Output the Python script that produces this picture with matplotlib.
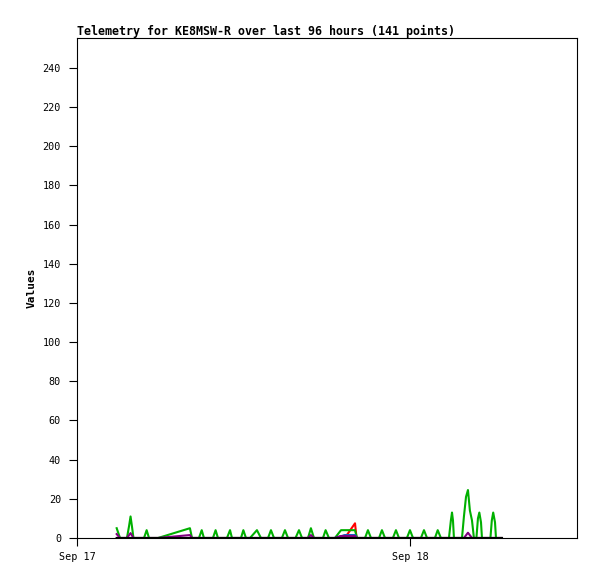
import numpy as np
import matplotlib
matplotlib.use("Agg")
import matplotlib.pyplot as plt

#-------------------------------------------------
#       Data (hours after Sep 17 00:00, values)
#-------------------------------------------------

green_t = [2.86, 3.10, 3.60, 3.75, 3.86, 3.96, 4.07, 4.83, 5.02, 5.19, 5.84, 8.14, 8.29,
           8.79, 8.99, 9.15, 9.80, 9.99, 10.16, 10.81, 11.03, 11.17, 11.82, 11.99, 12.18,
           12.47, 12.97, 13.26, 13.77, 13.98, 14.20, 14.77, 14.99, 15.21, 15.75, 16.00, 16.22,
           16.65, 16.86, 17.08, 17.73, 17.92, 18.16, 18.59, 19.03, 20.04, 20.18,
           20.76, 20.97, 21.19, 21.77, 21.98, 22.20, 22.77, 22.99, 23.21, 23.78, 24.00, 24.22,
           24.79, 25.01, 25.23, 25.80, 26.00, 26.23,
           26.81, 26.95, 27.03, 27.10, 27.17,
           27.75, 27.89, 28.04, 28.18, 28.32, 28.47, 28.61,
           28.79, 28.90, 29.00, 29.12, 29.19,
           29.80, 29.90, 30.00, 30.13, 30.20, 30.60]
green_v = [5, 0, 0, 6, 11, 6, 0, 0, 4, 0, 0, 5, 0,
           0, 4, 0, 0, 4, 0, 0, 4, 0, 0, 4, 0,
           0, 4, 0, 0, 4, 0, 0, 4, 0, 0, 4, 0,
           0, 5, 0, 0, 4, 0, 0, 4, 4, 0,
           0, 4, 0, 0, 4, 0, 0, 4, 0, 0, 4, 0,
           0, 4, 0, 0, 4, 0,
           0, 9, 13, 9, 0,
           0, 11, 21, 24.5, 14, 9, 0,
           0, 10, 13, 8, 0,
           0, 9, 13, 8, 0, 0]

purple_t = [2.86, 3.10, 3.60, 3.86, 4.07, 5.84, 8.14, 8.29, 16.65, 16.86, 17.08,
            18.59, 19.03, 20.04, 20.18, 27.89, 28.18, 28.47, 30.60]
purple_v = [2, 0, 0, 2.5, 0, 0, 1.5, 0, 0, 1.5, 0,
            0, 1, 1, 0, 0, 2.7, 0, 0]

red_t = [2.86, 18.59, 19.45, 20.04, 20.15, 30.60]
red_v = [0, 0, 1.5, 7.5, 0, 0]

blue_t = [2.86, 18.59, 19.30, 20.04, 20.18, 30.60]
blue_v = [0, 0, 1.5, 1.5, 0, 0]

black_t = [2.86, 30.60]
black_v = [0, 0]

xtick_pos = [0, 24]
xtick_lab = ['Sep 17', 'Sep 18']
yticks = list(range(0, 241, 20))

#-------------------------------------------------
#       Plot
#-------------------------------------------------

plt.rcParams['font.family'] = 'DejaVu Sans Mono'

fig = plt.figure(figsize=(5.97, 5.79), dpi=100)
ax = fig.add_axes([77/597, 41/579, 500/597, 500/579])

lw = 1.5
ax.plot(red_t, red_v, color='#ff0000', lw=lw)
ax.plot(green_t, green_v, color='#00b000', lw=lw)
ax.plot(blue_t, blue_v, color='#1060c0', lw=lw)
ax.plot(purple_t, purple_v, color='#800080', lw=lw)
ax.plot(black_t, black_v, color='black', lw=lw)

ax.set_xlim(0, 36.04)
ax.set_ylim(0, 255.3)
ax.set_xticks(xtick_pos)
ax.set_xticklabels(xtick_lab)
ax.set_yticks(yticks)
ax.tick_params(direction='out', length=5.5, width=0.8, labelsize=7.3, pad=6,
               top=False, right=False)
ax.tick_params(axis='x', pad=4.5)

for s in ax.spines.values():
    s.set_linewidth(0.8)

ax.set_ylabel('Values', fontsize=8, fontweight='bold')
ax.yaxis.set_label_coords(-0.08, 0.5)

fig.text(77/597, 1 - 31/579, 'Telemetry for KE8MSW-R over last 96 hours (141 points)',
         fontsize=8.35, fontweight='bold', ha='left', va='center')

fig.savefig('out.png', dpi=100)
